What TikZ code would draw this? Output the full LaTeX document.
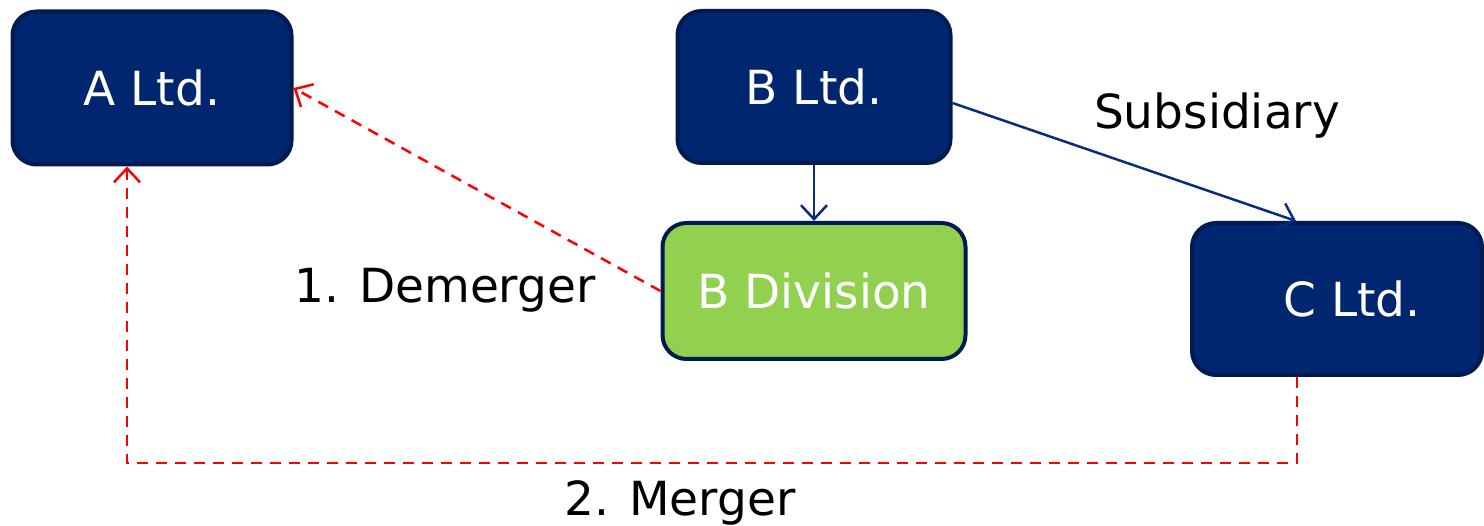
\documentclass[tikz,border=0pt]{standalone}
\usepackage{fontspec}
\setmainfont{DejaVu Sans}
\usetikzlibrary{arrows.meta,calc}
\definecolor{navyfill}{HTML}{00266F}
\definecolor{navyedge}{HTML}{001A52}
\definecolor{navyline}{HTML}{0A2C7C}
\definecolor{divgreen}{HTML}{92D050}
\tikzset{
  company/.style={draw=navyedge, line width=4pt, rounded corners=24pt, fill=navyfill,
    text=white, font=\fontsize{47}{56}\selectfont, inner sep=0pt},
  division/.style={company, fill=divgreen},
  owns/.style={draw=navyline, line width=2.5pt, -{Straight Barb[length=14pt,width=26pt,line width=2.5pt]}},
  move/.style={draw=red, line width=2.5pt, dash pattern=on 11pt off 8pt,
    -{Straight Barb[length=14pt,width=26pt,line width=2.5pt]}},
  caption/.style={font=\fontsize{47}{56}\selectfont, text=black, inner sep=0pt}
}
\begin{document}
\begin{tikzpicture}[x=1pt,y=-1pt]
  \useasboundingbox (0,0) rectangle (1484,526);
  % companies
  \node[company, minimum width=279pt, minimum height=153pt] (a) at (152,88) {A Ltd.};
  \node[company, minimum width=273pt, minimum height=152pt] (b) at (814,87) {B Ltd.};
  \node[division, minimum width=303pt, minimum height=136pt] (bd) at (814,291) {B Division};
  \node[company, minimum width=290pt, minimum height=152pt] (c) at (1337,299) {\hspace*{30pt}C Ltd.};
  % ownership
  \draw[owns] (b.south) -- (bd.north);
  \draw[owns] ([yshift=-16pt]b.east) -- ([xshift=-41pt]c.north);
  \node[caption] (sub) at (1217,116) {Subsidiary};
  % transactions
  \draw[move] (bd.west) -- (a.east);
  \node[caption] (dem) at (445,290) {1. Demerger};
  \coordinate (mr) at ([xshift=-40pt]c.south |- 0,463);
  \coordinate (ml) at ([xshift=-25pt]a.south |- 0,463);
  \draw[move] ([xshift=-40pt]c.south) -- (mr) -- (ml) -- ([xshift=-25pt]a.south);
  \node[caption] (mer) at (680,503) {2. Merger};
\end{tikzpicture}
\end{document}
